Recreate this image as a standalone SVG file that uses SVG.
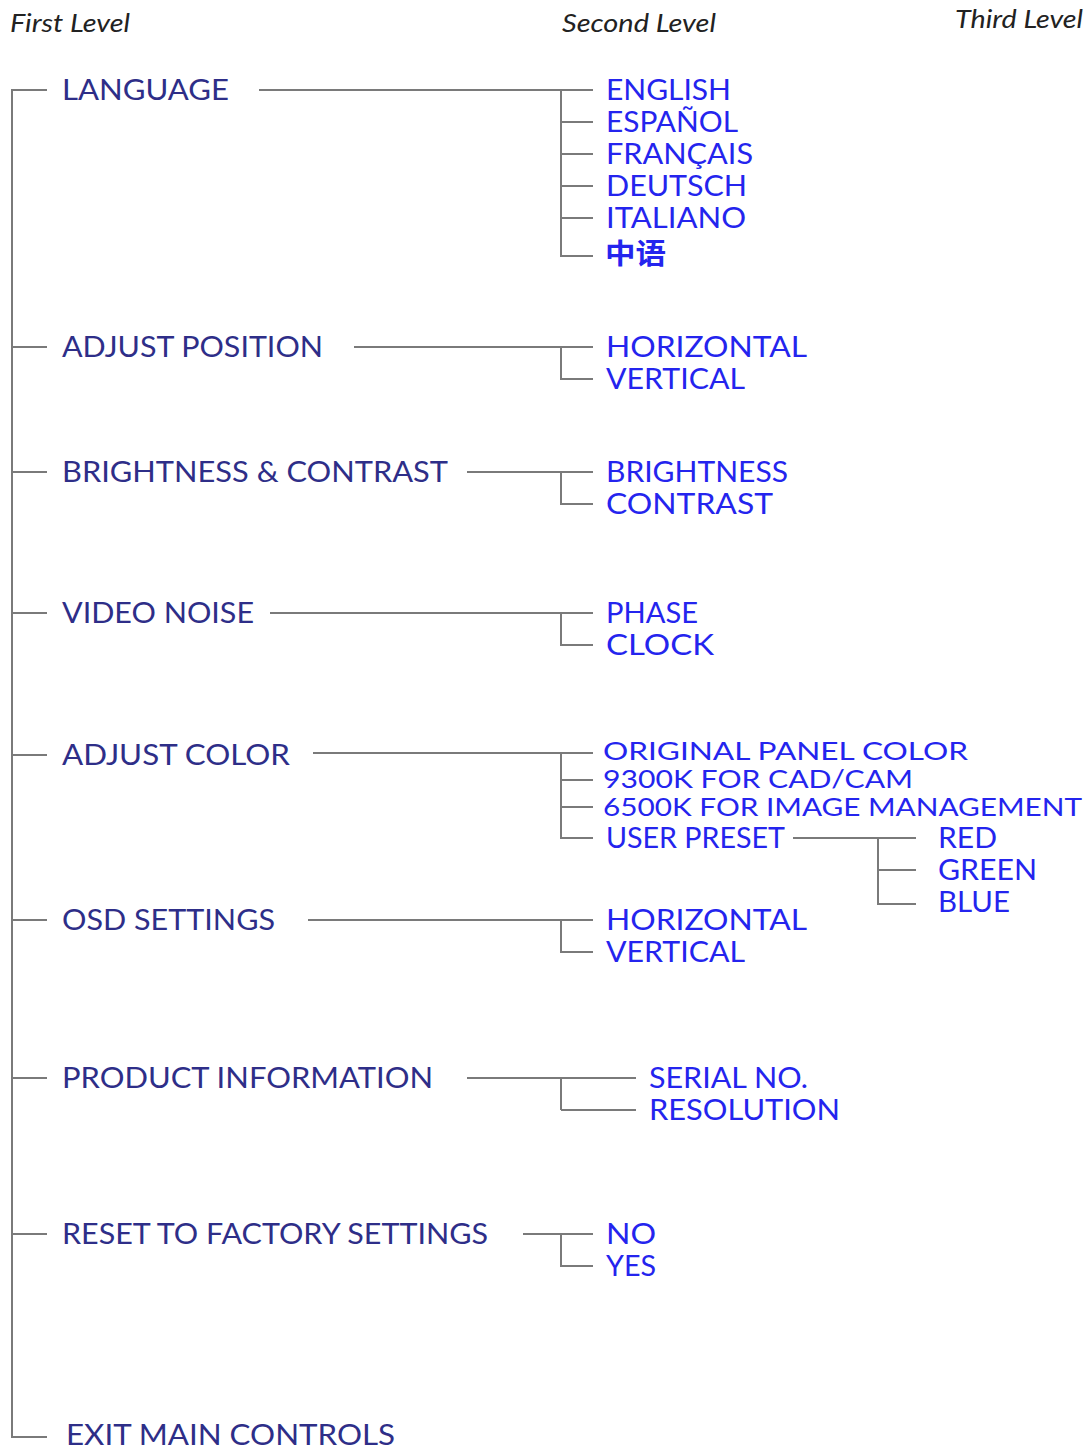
<svg xmlns="http://www.w3.org/2000/svg" width="1089" height="1451" viewBox="0 0 1089 1451">
<style>
.hdr{font-family:"Lato","Open Sans","Liberation Sans",sans-serif;font-style:italic;font-size:25px;fill:#222}
.l1{font-family:"Lato","Liberation Sans",sans-serif;font-size:28px;fill:#2e2e88}
.l2{font-family:"Lato","Liberation Sans",sans-serif;font-size:28px;fill:#2424ee}
.sq{font-size:25px}
.cjk{font-family:"Noto Sans CJK SC",sans-serif;font-weight:bold;font-size:28px;fill:#2424ee}
.c{fill:none;stroke:#7a7a7a;stroke-width:2}
</style>
<rect width="1089" height="1451" fill="#fff"/>
<g id="headers">
<text class="hdr" x="10" y="32" textLength="120" lengthAdjust="spacingAndGlyphs">First Level</text>
<text class="hdr" x="562" y="32" textLength="154" lengthAdjust="spacingAndGlyphs">Second Level</text>
<text class="hdr" x="955" y="28" textLength="128" lengthAdjust="spacingAndGlyphs">Third Level</text>
</g>
<g id="connectors">
<path class="c" d="M47,90H12V1437H47"/>
<path class="c" d="M12,347H47M12,472H47M12,613H47M12,755H47M12,920H47M12,1078H47M12,1234H47"/>
<path class="c" d="M259,90H593M561,90V256H593M561,122H593M561,154H593M561,186H593M561,218H593"/>
<path class="c" d="M354,347H593M561,347V379H593"/>
<path class="c" d="M467,472H593M561,472V504H593"/>
<path class="c" d="M270,613H593M561,613V645H593"/>
<path class="c" d="M313,753H593M561,753V838H593M561,780H593M561,807H593"/>
<path class="c" d="M793,838H916M878,838V904H916M878,870H916"/>
<path class="c" d="M308,920H593M561,920V952H593"/>
<path class="c" d="M467,1078H636M561,1078V1110"/>
<path class="c" d="M561,1110H636" stroke-width="3"/>
<path class="c" d="M523,1234H593M561,1234V1266H593"/>
</g>
<g id="language">
<text class="l1" x="62" y="100" textLength="167" lengthAdjust="spacingAndGlyphs">LANGUAGE</text>
<text class="l2" x="606" y="100" textLength="125" lengthAdjust="spacingAndGlyphs">ENGLISH</text>
<text class="l2" x="606" y="132" textLength="132" lengthAdjust="spacingAndGlyphs">ESPAÑOL</text>
<text class="l2" x="606" y="164" textLength="147" lengthAdjust="spacingAndGlyphs">FRANÇAIS</text>
<text class="l2" x="606" y="196" textLength="141" lengthAdjust="spacingAndGlyphs">DEUTSCH</text>
<text class="l2" x="606" y="228" textLength="140" lengthAdjust="spacingAndGlyphs">ITALIANO</text>
<text class="cjk" x="605" y="264" textLength="61" lengthAdjust="spacingAndGlyphs">中语</text>
</g>
<g id="adjust-position">
<text class="l1" x="62" y="357" textLength="261" lengthAdjust="spacingAndGlyphs">ADJUST POSITION</text>
<text class="l2" x="606" y="357" textLength="201" lengthAdjust="spacingAndGlyphs">HORIZONTAL</text>
<text class="l2" x="606" y="389" textLength="139" lengthAdjust="spacingAndGlyphs">VERTICAL</text>
</g>
<g id="brightness-contrast">
<text class="l1" x="62" y="482" textLength="386" lengthAdjust="spacingAndGlyphs">BRIGHTNESS &amp; CONTRAST</text>
<text class="l2" x="606" y="482" textLength="182" lengthAdjust="spacingAndGlyphs">BRIGHTNESS</text>
<text class="l2" x="606" y="514" textLength="167" lengthAdjust="spacingAndGlyphs">CONTRAST</text>
</g>
<g id="video-noise">
<text class="l1" x="62" y="623" textLength="192" lengthAdjust="spacingAndGlyphs">VIDEO NOISE</text>
<text class="l2" x="606" y="623" textLength="92" lengthAdjust="spacingAndGlyphs">PHASE</text>
<text class="l2" x="606" y="655" textLength="108" lengthAdjust="spacingAndGlyphs">CLOCK</text>
</g>
<g id="adjust-color">
<text class="l1" x="62" y="765" textLength="228" lengthAdjust="spacingAndGlyphs">ADJUST COLOR</text>
<text class="l2 sq" x="603" y="760" textLength="365" lengthAdjust="spacingAndGlyphs">ORIGINAL PANEL COLOR</text>
<text class="l2 sq" x="603" y="788" textLength="310" lengthAdjust="spacingAndGlyphs">9300K FOR CAD/CAM</text>
<text class="l2 sq" x="603" y="816" textLength="479" lengthAdjust="spacingAndGlyphs">6500K FOR IMAGE MANAGEMENT</text>
<text class="l2" x="606" y="848" textLength="179" lengthAdjust="spacingAndGlyphs">USER PRESET</text>
</g>
<g id="user-preset">
<text class="l2" x="938" y="848" textLength="59" lengthAdjust="spacingAndGlyphs">RED</text>
<text class="l2" x="938" y="880" textLength="99" lengthAdjust="spacingAndGlyphs">GREEN</text>
<text class="l2" x="938" y="912" textLength="72" lengthAdjust="spacingAndGlyphs">BLUE</text>
</g>
<g id="osd-settings">
<text class="l1" x="62" y="930" textLength="213" lengthAdjust="spacingAndGlyphs">OSD SETTINGS</text>
<text class="l2" x="606" y="930" textLength="201" lengthAdjust="spacingAndGlyphs">HORIZONTAL</text>
<text class="l2" x="606" y="962" textLength="139" lengthAdjust="spacingAndGlyphs">VERTICAL</text>
</g>
<g id="product-information">
<text class="l1" x="62" y="1088" textLength="371" lengthAdjust="spacingAndGlyphs">PRODUCT INFORMATION</text>
<text class="l2" x="649" y="1088" textLength="159" lengthAdjust="spacingAndGlyphs">SERIAL NO.</text>
<text class="l2" x="649" y="1120" textLength="191" lengthAdjust="spacingAndGlyphs">RESOLUTION</text>
</g>
<g id="reset">
<text class="l1" x="62" y="1244" textLength="426" lengthAdjust="spacingAndGlyphs">RESET TO FACTORY SETTINGS</text>
<text class="l2" x="606" y="1244" textLength="50" lengthAdjust="spacingAndGlyphs">NO</text>
<text class="l2" x="606" y="1276" textLength="50" lengthAdjust="spacingAndGlyphs">YES</text>
</g>
<g id="exit">
<text class="l1" x="66" y="1445" textLength="329" lengthAdjust="spacingAndGlyphs">EXIT MAIN CONTROLS</text>
</g>
</svg>
